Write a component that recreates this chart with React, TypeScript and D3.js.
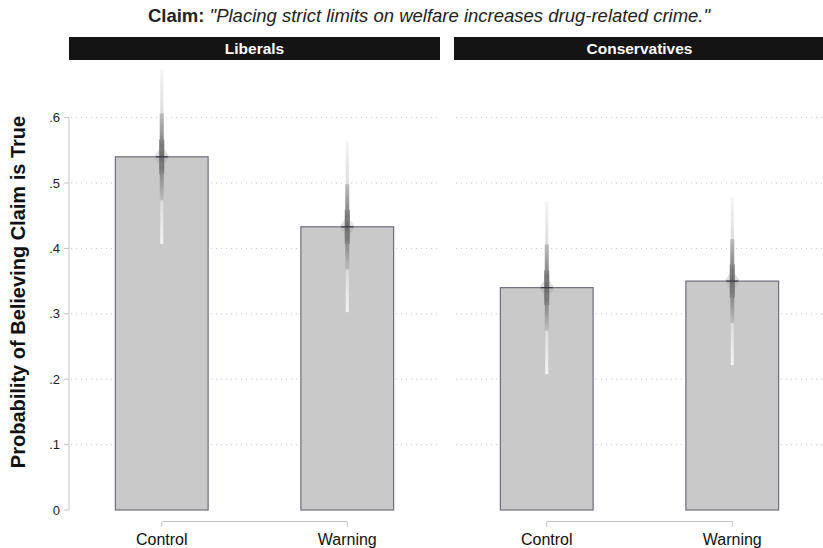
import React from "react";
import * as d3 from "d3";

const groups = ["Liberals", "Conservatives"];
const conditions = ["Control", "Warning"];
const liberalMeans = [0.54, 0.433];
const conservativeMeans = [0.34, 0.35];
const liberalLower = [0.408, 0.303];
const liberalUpper = [0.674, 0.564];
const conservativeLower = [0.208, 0.221];
const conservativeUpper = [0.472, 0.478];
const yTicks = [0, 0.1, 0.2, 0.3, 0.4, 0.5, 0.6];

const W = 823;
const H = 548;
const FONT = "'Liberation Sans', Arial, Helvetica, sans-serif";

export default function App() {
  const y = d3.scaleLinear().domain([0, 0.6]).range([510, 117.6]);
  const panel = d3
    .scaleBand<string>()
    .domain(groups)
    .range([69, 825])
    .paddingInner(0.0364)
    .paddingOuter(0);
  const inner = d3
    .scaleBand<string>()
    .domain(conditions)
    .range([0, panel.bandwidth()])
    .paddingInner(0.5)
    .paddingOuter(0.25);

  const data = groups.map((g, gi) => ({
    group: g,
    items: conditions.map((c, ci) => ({
      cond: c,
      mean: gi === 0 ? liberalMeans[ci] : conservativeMeans[ci],
      lo: gi === 0 ? liberalLower[ci] : conservativeLower[ci],
      hi: gi === 0 ? liberalUpper[ci] : conservativeUpper[ci],
    })),
  }));

  const fmt = (v: number) => (v === 0 ? "0" : d3.format(".1f")(v).replace(/^0/, ""));
  const axisX = 69;

  return (
    <svg
      width={W}
      height={H}
      style={{ position: "absolute", left: 0, top: 0, display: "block", background: "#fff" }}
      fontFamily={FONT}
    >
      <defs>
        <linearGradient id="gOuter" x1="0" y1="0" x2="0" y2="1">
          <stop offset="0%" stopColor="#f4f4f4" />
          <stop offset="50%" stopColor="#c4c4c4" />
          <stop offset="100%" stopColor="#f4f4f4" />
        </linearGradient>
        <linearGradient id="gMid" x1="0" y1="0" x2="0" y2="1">
          <stop offset="0%" stopColor="#bdbdbd" />
          <stop offset="50%" stopColor="#6a6a6a" />
          <stop offset="100%" stopColor="#bdbdbd" />
        </linearGradient>
        <linearGradient id="gInner" x1="0" y1="0" x2="0" y2="1">
          <stop offset="0%" stopColor="#8a8a8a" />
          <stop offset="50%" stopColor="#555" />
          <stop offset="100%" stopColor="#8a8a8a" />
        </linearGradient>
      </defs>

      {/* Title */}
      <text x={429} y={22} textAnchor="middle" fontSize={18.5} fill="#222">
        <tspan fontWeight="bold">Claim: </tspan>
        <tspan fontStyle="italic">"Placing strict limits on welfare increases drug-related crime."</tspan>
      </text>

      {/* Y axis */}
      <line x1={axisX} x2={axisX} y1={y(0.6)} y2={y(0)} stroke="#c4c4c4" strokeWidth={1} />
      {yTicks.map((t) => (
        <g key={t}>
          <line x1={axisX - 5} x2={axisX} y1={y(t)} y2={y(t)} stroke="#c4c4c4" />
          <text x={axisX - 9} y={y(t)} dy="0.35em" textAnchor="end" fontSize={13} fill="#222">
            {fmt(t)}
          </text>
        </g>
      ))}
      <text
        transform={`translate(25, 292) rotate(-90)`}
        textAnchor="middle"
        fontSize={20}
        fontWeight="bold"
        fill="#111"
      >
        Probability of Believing Claim is True
      </text>

      {data.map((d) => {
        const px = panel(d.group)!;
        const pw = panel.bandwidth();
        return (
          <g key={d.group}>
            {/* Strip */}
            <rect x={px} y={37} width={pw} height={23} fill="#141414" />
            <text x={px + pw / 2} y={48.5} dy="0.35em" textAnchor="middle" fontSize={15.5} fontWeight="bold" fill="#fff">
              {d.group}
            </text>
            {/* Grid */}
            {yTicks
              .filter((t) => t > 0)
              .map((t) => (
                <line
                  key={t}
                  x1={px + 2}
                  x2={px + pw}
                  y1={y(t)}
                  y2={y(t)}
                  stroke="#c8c8c8"
                  strokeWidth={1}
                  strokeDasharray="1,4"
                />
              ))}
            {/* Bars */}
            {d.items.map((it) => {
              const bx = px + inner(it.cond)!;
              const bw = inner.bandwidth();
              return (
                <rect
                  key={it.cond}
                  x={bx}
                  y={y(it.mean)}
                  width={bw}
                  height={y(0) - y(it.mean)}
                  fill="#c8c9c8"
                  stroke="#706c7c"
                  strokeWidth={1.2}
                />
              );
            })}
            {/* Intervals */}
            {d.items.map((it) => {
              const cx = px + inner(it.cond)! + inner.bandwidth() / 2;
              const half = (it.hi - it.lo) / 2;
              const m = it.mean;
              const seg = (f: number) => [y(m + half * f), y(m - half * f)];
              const [o1, o2] = seg(1);
              const [m1, m2] = seg(0.5);
              const [i1, i2] = seg(0.2);
              const ym = y(m);
              return (
                <g key={it.cond}>
                  <rect x={cx - 1.5} y={o1} width={3} height={o2 - o1} fill="url(#gOuter)" />
                  <rect x={cx - 2} y={m1} width={4} height={m2 - m1} fill="url(#gMid)" />
                  <rect x={cx - 2.5} y={i1} width={5} height={i2 - i1} fill="url(#gInner)" />
                  <polygon
                    points={`${cx},${ym - 11} ${cx + 8},${ym} ${cx},${ym + 11} ${cx - 8},${ym}`}
                    fill="#9a9a9a"
                    opacity={0.3}
                  />
                  <line x1={cx - 6} x2={cx + 6} y1={ym} y2={ym} stroke="#3a3848" strokeWidth={1.2} />
                </g>
              );
            })}
            {/* X bracket */}
            {(() => {
              const c0 = px + inner(conditions[0])! + inner.bandwidth() / 2;
              const c1 = px + inner(conditions[1])! + inner.bandwidth() / 2;
              return (
                <g>
                  <path
                    d={`M${c0},527V521.5H${c1}V527`}
                    fill="none"
                    stroke="#c4c4c4"
                    strokeWidth={1}
                  />
                  {conditions.map((c, i) => (
                    <text key={c} x={i === 0 ? c0 : c1} y={545} textAnchor="middle" fontSize={16} fill="#111">
                      {c}
                    </text>
                  ))}
                </g>
              );
            })()}
          </g>
        );
      })}
    </svg>
  );
}
